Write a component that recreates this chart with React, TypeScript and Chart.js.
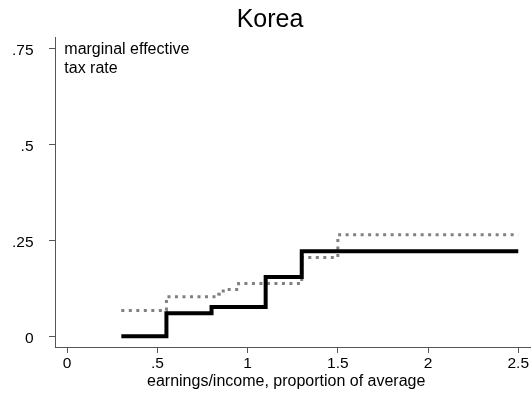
import React, { useEffect, useRef } from "react";
import { Chart, registerables } from "chart.js";

Chart.register(...registerables);

const chartTitle = "Korea";
const xAxisTitle = "earnings/income, proportion of average";
const annotationLines = ["marginal effective", "tax rate"];

const xTickValues = [0, 0.5, 1, 1.5, 2, 2.5];
const xTickLabels = ["0", ".5", "1", "1.5", "2", "2.5"];
const yTickValues = [0, 0.25, 0.5, 0.75];
const yTickLabels = ["0", ".25", ".5", ".75"];

// solid black step line (breakpoints and levels)
const solidX = [0.3, 0.55, 0.8, 1.1, 1.3, 2.5];
const solidY = [0, 0.06, 0.076, 0.154, 0.221, 0.221];

// dotted grey step line
const dottedX = [0.3, 0.55, 0.84, 0.865, 0.95, 1.3, 1.5, 2.5];
const dottedY = [0.067, 0.103, 0.109, 0.122, 0.137, 0.205, 0.264, 0.264];

const FONT = '"Liberation Sans", Arial, Helvetica, sans-serif';

const textPlugin = {
  id: "textPlugin",
  afterDraw(chart: any) {
    const ctx = chart.ctx as CanvasRenderingContext2D;
    ctx.save();
    ctx.fillStyle = "#000";
    ctx.textBaseline = "alphabetic";
    ctx.textAlign = "center";
    ctx.font = `25px ${FONT}`;
    ctx.fillText(chartTitle, 270, 27.3);
    ctx.font = `16px ${FONT}`;
    ctx.fillText(xAxisTitle, 286.2, 385.7);
    ctx.textAlign = "left";
    ctx.font = `16px ${FONT}`;
    annotationLines.forEach((line, i) => {
      ctx.fillText(line, 64.3, 54 + i * 18.7);
    });
    ctx.restore();
  },
};

export default function App() {
  const ref = useRef<HTMLCanvasElement | null>(null);

  useEffect(() => {
    if (!ref.current) return;
    const axisColor = "#555";
    const chart = new Chart(ref.current, {
      type: "line",
      data: {
        datasets: [
          {
            data: solidX.map((x, i) => ({ x, y: solidY[i] })),
            borderColor: "#000",
            borderWidth: 4,
            stepped: "before",
            pointRadius: 0,
            borderJoinStyle: "miter",
            borderCapStyle: "butt",
            fill: false,
          },
          {
            data: dottedX.map((x, i) => ({ x, y: dottedY[i] })),
            borderColor: "#808080",
            borderWidth: 3,
            borderDash: [3, 4.5],
            stepped: "before",
            pointRadius: 0,
            borderCapStyle: "butt",
            fill: false,
          },
        ],
      },
      options: {
        animation: false,
        responsive: false,
        devicePixelRatio: 1,
        layout: { padding: { top: 37, right: 1, left: 0, bottom: 0 } },
        plugins: {
          legend: { display: false },
          title: { display: false },
          tooltip: { enabled: false },
        },
        scales: {
          x: {
            type: "linear",
            min: -0.0675,
            max: 2.565,
            afterBuildTicks: (scale: any) => {
              scale.ticks = xTickValues.map((v) => ({ value: v }));
            },
            afterFit: (scale: any) => {
              scale.height = 49;
            },
            ticks: {
              autoSkip: false,
              maxRotation: 0,
              minRotation: 0,
              padding: 1,
              color: "#000",
              font: { family: FONT, size: 15.5 },
              callback: (v: any) => {
                const idx = xTickValues.indexOf(Number(v));
                return idx >= 0 ? xTickLabels[idx] : "";
              },
            },
            grid: {
              display: true,
              drawOnChartArea: false,
              drawTicks: true,
              tickLength: 6,
              color: axisColor,
              lineWidth: 1,
            },
            border: { display: true, color: axisColor, width: 1 },
          },
          y: {
            type: "linear",
            min: -0.028,
            max: 0.779,
            afterBuildTicks: (scale: any) => {
              scale.ticks = yTickValues.map((v) => ({ value: v }));
            },
            afterFit: (scale: any) => {
              scale.width = 55;
            },
            ticks: {
              autoSkip: false,
              padding: 15.5,
              labelOffset: 2.5,
              color: "#000",
              font: { family: FONT, size: 15.5 },
              callback: (v: any) => {
                const idx = yTickValues.indexOf(Number(v));
                return idx >= 0 ? yTickLabels[idx] : "";
              },
            },
            grid: {
              display: true,
              drawOnChartArea: false,
              drawTicks: true,
              tickLength: 6,
              color: axisColor,
              lineWidth: 1,
            },
            border: { display: true, color: axisColor, width: 1 },
          },
        },
      },
      plugins: [textPlugin],
    } as any);
    return () => chart.destroy();
  }, []);

  return (
    <div
      style={{
        position: "fixed",
        left: 0,
        top: 0,
        width: 531,
        height: 396,
        background: "#fff",
      }}
    >
      <canvas ref={ref} width={531} height={396} style={{ display: "block" }} />
    </div>
  );
}
